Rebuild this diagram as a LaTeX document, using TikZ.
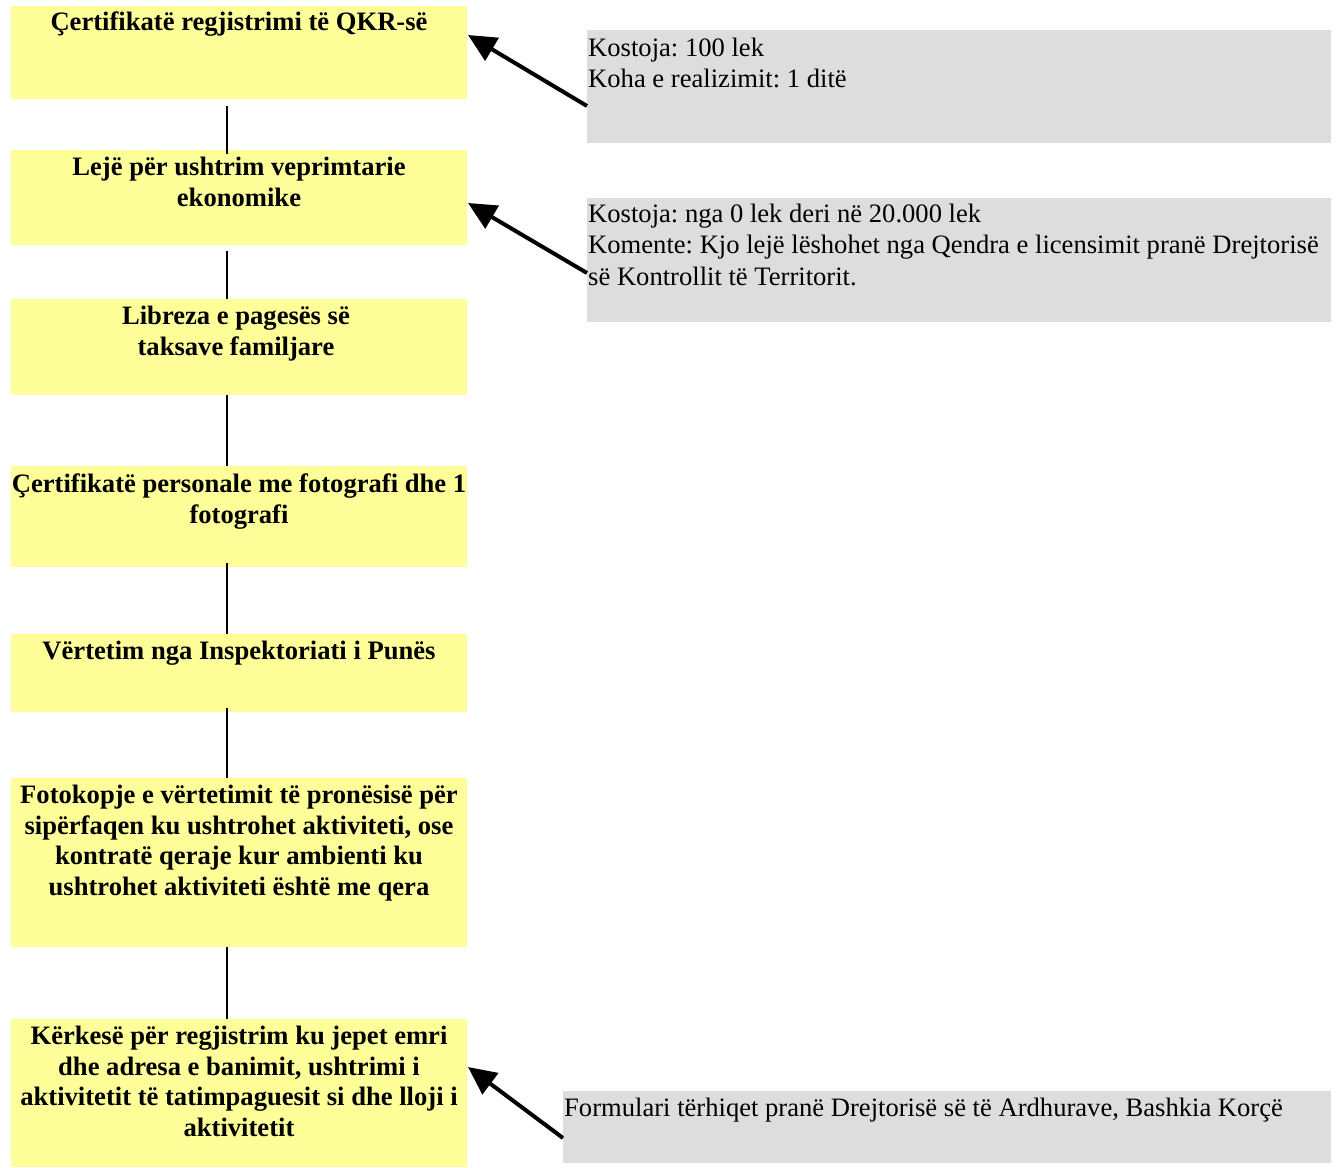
\documentclass[tikz,border=0pt]{standalone}
\usepackage{fontspec}
\setmainfont{Liberation Serif}
\frenchspacing
\usetikzlibrary{calc,arrows.meta}
\definecolor{yfill}{HTML}{FFFF99}
\definecolor{gfill}{HTML}{DDDDDD}
\tikzset{
  ybox/.style={draw=none,fill=yfill,minimum width=456pt,inner sep=0pt,anchor=north west,outer sep=0pt},
  gbox/.style={draw=none,fill=gfill,inner sep=0pt,anchor=north west,outer sep=0pt},
  ytext/.style={anchor=north,inner sep=0pt,align=center,font=\frenchspacing\fontsize{26.6}{30.6}\selectfont\bfseries},
  gtext/.style={anchor=north west,inner sep=0pt,align=left,font=\frenchspacing\fontsize{26.6}{31.2}\selectfont},
  conn/.style={line width=1.5pt},
  arr/.style={line width=4pt,-{Triangle[length=28pt,width=26pt]}}
}
\begin{document}
\begin{tikzpicture}[x=1pt,y=-1pt]
\useasboundingbox (0,0) rectangle (1340,1167);
% yellow boxes
\node[ybox,minimum height=93pt] (b1) at (11,6) {};
\node[ybox,minimum height=95pt] (b2) at (11,150) {};
\node[ybox,minimum height=96pt] (b3) at (11,299) {};
\node[ybox,minimum height=101pt] (b4) at (11,466) {};
\node[ybox,minimum height=78pt] (b5) at (11,634) {};
\node[ybox,minimum height=169pt] (b6) at (11,778) {};
\node[ybox,minimum height=148pt] (b7) at (11,1019) {};
% texts
\node[ytext] (t1) at ($(b1.north)+(0,6)$) {Çertifikatë regjistrimi të QKR-së};
\node[ytext] (t2) at ($(b2.north)+(0,7)$) {Lejë për ushtrim veprimtarie\\ekonomike};
\node[ytext] (t3) at ($(b3.north)+(-3,7)$) {Libreza e pagesës së\\taksave familjare};
\node[ytext] (t4) at ($(b4.north)+(0,8)$) {Çertifikatë personale me fotografi dhe 1\\fotografi};
\node[ytext] (t5) at ($(b5.north)+(0,7)$) {Vërtetim nga Inspektoriati i Punës};
\node[ytext] (t6) at ($(b6.north)+(0,7)$) {Fotokopje e vërtetimit të pronësisë për\\sipërfaqen ku ushtrohet aktiviteti, ose\\kontratë qeraje kur ambienti ku\\ushtrohet aktiviteti është me qera};
\node[ytext] (t7) at ($(b7.north)+(0,7)$) {Kërkesë për regjistrim ku jepet emri\\dhe adresa e banimit, ushtrimi i\\aktivitetit të tatimpaguesit si dhe lloji i\\aktivitetit};
% gray boxes
\node[gbox,minimum width=744pt,minimum height=113pt] (g1) at (587,30) {};
\node[gbox,minimum width=744pt,minimum height=124pt] (g2) at (587,198) {};
\node[gbox,minimum width=768pt,minimum height=72pt] (g3) at (563,1091) {};
\node[gtext] (s1) at ($(g1.north west)+(1,8)$) {Kostoja: 100 lek\\Koha e realizimit: 1 ditë};
\node[gtext] (s2) at ($(g2.north west)+(1,6)$) {Kostoja: nga 0 lek deri në 20.000 lek\\Komente: Kjo lejë lëshohet nga Qendra e licensimit pranë Drejtorisë\\së Kontrollit të Territorit.};
\node[gtext] (s3) at ($(g3.north west)+(1,7)$) {Formulari tërhiqet pranë Drejtorisë së të Ardhurave, Bashkia Korçë};
% connectors
\draw[conn] ($(b1.south)+(-12,7)$) -- ($(b2.north)+(-12,4)$);
\draw[conn] ($(b2.south)+(-12,6)$) -- ($(b3.north)+(-12,0)$);
\draw[conn] ($(b3.south)+(-12,0)$) -- ($(b4.north)+(-12,0)$);
\draw[conn] ($(b4.south)+(-12,-4)$) -- ($(b5.north)+(-12,0)$);
\draw[conn] ($(b5.south)+(-12,-4)$) -- ($(b6.north)+(-12,0)$);
\draw[conn] ($(b6.south)+(-12,0)$) -- ($(b7.north)+(-12,0)$);
% arrows
\draw[arr] ($(g1.north west)+(0,76)$) -- ($(b1.north east)+(1,29)$);
\draw[arr] ($(g2.north west)+(0,75)$) -- ($(b2.north east)+(1,53)$);
\draw[arr] ($(g3.north west)+(0,47)$) -- ($(b7.north east)+(1,48)$);
\end{tikzpicture}
\end{document}
